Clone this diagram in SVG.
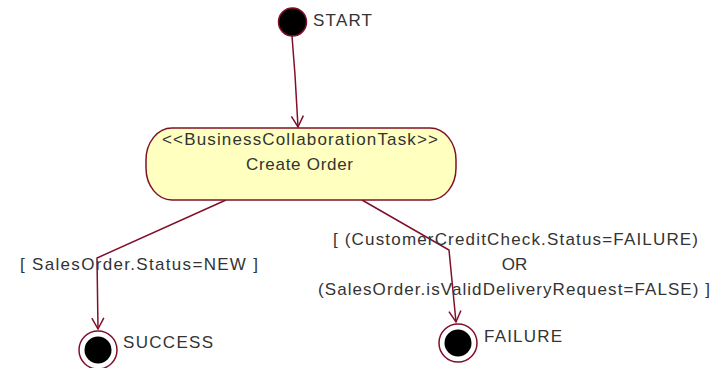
<svg xmlns="http://www.w3.org/2000/svg" width="726" height="368" viewBox="0 0 726 368">
<style>
.t{font-family:"Liberation Sans",Arial,sans-serif;font-size:17px;fill:#333}
.c{fill:none;stroke:#80102a;stroke-width:1.5}
.node{stroke:#80102a;stroke-width:1.5}
</style>
<defs>
<marker id="arr" markerWidth="14" markerHeight="14" refX="12" refY="7" orient="auto" markerUnits="userSpaceOnUse">
<path d="M1,1 L12,7 L1,13" fill="none" stroke="#80102a" stroke-width="1.5"/>
</marker>
</defs>
<rect width="726" height="368" fill="#fff"/>
<g id="connectors">
<path class="c" d="M292,36 L295,75 L298,127" marker-end="url(#arr)"/>
<path class="c" d="M226,200 L97,258 L98,329" marker-end="url(#arr)"/>
<path class="c" d="M362,200 L449,250 L456,322" marker-end="url(#arr)"/>
</g>
<g id="start">
<circle class="node" cx="292.5" cy="22" r="14" fill="#000"/>
<text class="t" x="313" y="26" textLength="59">START</text>
</g>
<g id="create-order">
<rect class="node" x="146" y="128" width="310" height="72" rx="26" ry="32" fill="#ffffc0"/>
<text class="t" x="162" y="145" textLength="276">&lt;&lt;BusinessCollaborationTask&gt;&gt;</text>
<text class="t" x="246" y="170" textLength="107">Create Order</text>
</g>
<g id="success">
<circle class="node" cx="98" cy="350" r="19" fill="#fff"/>
<circle cx="98" cy="350" r="13.5" fill="#000"/>
<text class="t" x="123" y="348" textLength="90">SUCCESS</text>
</g>
<g id="failure">
<circle class="node" cx="458" cy="343" r="19" fill="#fff"/>
<circle cx="458" cy="343" r="13.5" fill="#000"/>
<text class="t" x="484" y="342" textLength="78">FAILURE</text>
</g>
<g id="labels">
<text class="t" x="20" y="270" textLength="238">[ SalesOrder.Status=NEW ]</text>
<text class="t" x="333" y="245" textLength="365">[ (CustomerCreditCheck.Status=FAILURE)</text>
<text class="t" x="514.5" y="270" text-anchor="middle">OR</text>
<text class="t" x="318" y="295" textLength="392">(SalesOrder.isValidDeliveryRequest=FALSE) ]</text>
</g>
</svg>
